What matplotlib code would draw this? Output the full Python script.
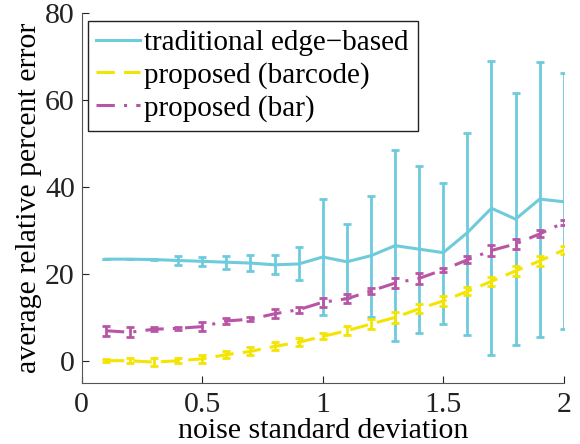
import numpy as np
import matplotlib.pyplot as plt

# noise levels
sigma = [0.1, 0.2, 0.3, 0.4, 0.5, 0.6, 0.7, 0.8, 0.9, 1.0,
         1.1, 1.2, 1.3, 1.4, 1.5, 1.6, 1.7, 1.8, 1.9, 2.0]

# traditional edge-based: mean and error bar bounds
edge_mean = [23.5, 23.5, 23.4, 23.2, 23.0, 22.8, 22.6, 22.2, 22.4, 24.0,
             22.9, 24.3, 26.6, 25.8, 25.0, 29.6, 35.2, 32.7, 37.3, 36.7]
edge_low = [23.5, 23.5, 23.2, 22.1, 21.9, 21.3, 20.7, 20.0, 18.6, 10.6,
            14.5, 10.3, 4.6, 6.5, 8.7, 6.1, 1.5, 3.8, 5.7, 7.5]
edge_high = [23.5, 23.5, 23.6, 24.3, 24.1, 24.3, 24.5, 24.4, 26.2, 37.3,
             31.5, 38.1, 48.6, 44.8, 41.0, 52.6, 69.1, 61.6, 68.9, 66.2]

# proposed (barcode)
barcode_mean = [0.2, 0.15, -0.15, 0.15, 0.6, 1.55, 2.3, 3.45, 4.4, 5.75,
                7.05, 8.6, 10.1, 12.1, 13.9, 16.1, 18.4, 20.8, 23.1, 25.6]
barcode_err = [0.3, 0.6, 0.9, 0.6, 0.9, 0.8, 0.9, 0.9, 0.9, 0.7,
               1.0, 1.2, 1.2, 1.0, 1.2, 0.9, 1.0, 1.1, 1.1, 0.9]

# proposed (bar)
bar_mean = [7.05, 6.7, 7.4, 7.6, 8.0, 9.3, 9.7, 10.95, 11.9, 13.6,
            14.4, 16.2, 18.0, 19.1, 21.05, 23.35, 25.5, 27.0, 29.3, 31.9]
bar_err = [1.1, 1.15, 0.4, 0.3, 1.0, 0.6, 0.5, 1.0, 0.7, 1.0,
           1.0, 0.6, 1.2, 1.2, 0.4, 0.8, 1.2, 1.2, 0.8, 0.6]

labels = ['traditional edge\u2212based', 'proposed (barcode)', 'proposed (bar)']

plt.rcParams['font.family'] = ['Liberation Serif', 'DejaVu Serif']

fig = plt.figure(figsize=(5.8, 4.44), dpi=100)
ax = fig.add_axes([0.141, 0.137, 0.831, 0.833])

edge_err = [np.array(edge_mean) - np.array(edge_low),
            np.array(edge_high) - np.array(edge_mean)]

c1 = ax.errorbar(sigma, edge_mean, yerr=edge_err, color='#6ECBDC', lw=2.2,
                 elinewidth=2.0, capsize=3, capthick=2.0, ls='-')
c2 = ax.errorbar(sigma, barcode_mean, yerr=barcode_err, color='#F4E500', lw=2.2,
                 elinewidth=2.0, capsize=3, capthick=2.0, ls=(0, (6, 3)))
c3 = ax.errorbar(sigma, bar_mean, yerr=bar_err, color='#B855A6', lw=2.2,
                 elinewidth=2.0, capsize=3, capthick=2.0, ls=(0, (6, 3, 1, 3)))

fs = 21.5
ax.set_xlim(0, 2)
ax.set_ylim(-5, 80)
ax.set_xticks([0, 0.5, 1, 1.5, 2])
ax.set_xticklabels(['0', '0.5', '1', '1.5', '2'])
ax.set_yticks([0, 20, 40, 60, 80])
ax.tick_params(direction='in', length=5, labelsize=fs, colors='#222222')
ax.tick_params(axis='x', pad=6)
ax.tick_params(axis='y', pad=5)
ax.spines['top'].set_visible(False)
ax.spines['right'].set_visible(False)
for s in ['left', 'bottom']:
    ax.spines[s].set_color('#555555')
ax.set_xlabel('noise standard deviation', fontsize=fs, labelpad=0)
ax.set_ylabel('average relative percent error', fontsize=fs, labelpad=2)

leg = ax.legend([c1[0], c2[0], c3[0]], labels, loc='upper left',
                bbox_to_anchor=(0.012, 0.979), fontsize=21, handlelength=1.5,
                handletextpad=0.15, labelspacing=0.2, borderpad=0.3,
                fancybox=False, framealpha=1, borderaxespad=0)
leg.get_frame().set_edgecolor('#222222')
leg.get_frame().set_linewidth(1.0)

plt.savefig('out.png', dpi=100)
